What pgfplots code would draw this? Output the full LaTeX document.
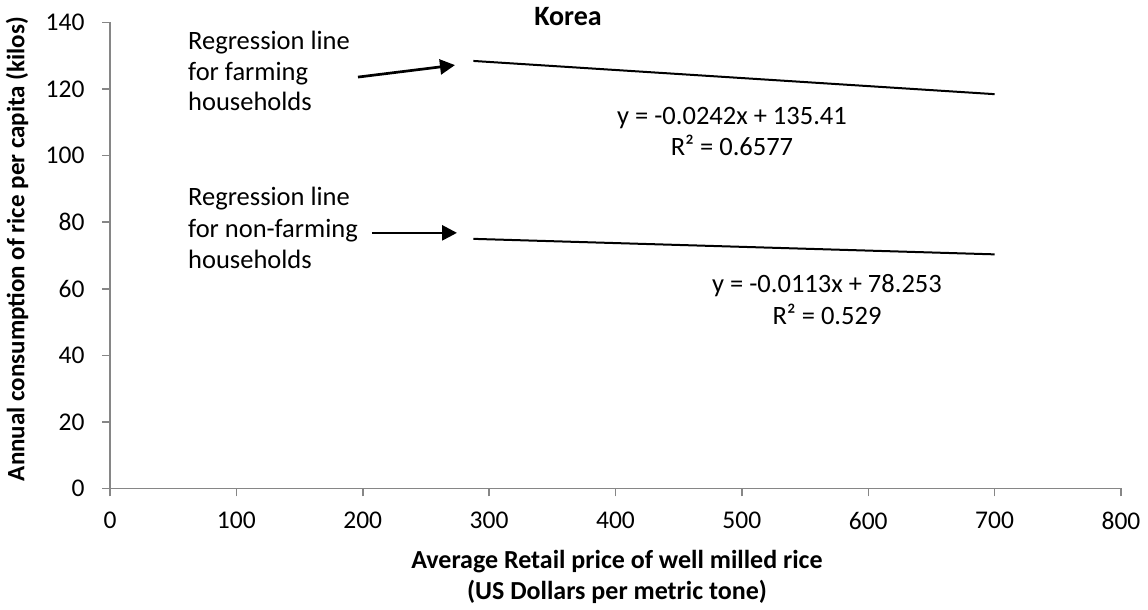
\documentclass[border=0pt]{standalone}
\usepackage{pgfplots}
\pgfplotsset{compat=1.18}
\usepackage{fontspec}
\setmainfont{Carlito}
\usetikzlibrary{arrows.meta}
\definecolor{axgray}{RGB}{134,134,134}
\begin{document}
\begin{tikzpicture}[x=1pt,y=1pt]
\useasboundingbox (0,0) rectangle (1148,610);
\begin{axis}[
  at={(110pt,121.5pt)}, anchor=south west,
  scale only axis, width=1011pt, height=466pt,
  xmin=0, xmax=800, ymin=0, ymax=140,
  xtick={0,100,...,800}, ytick={0,20,...,140},
  axis x line*=bottom, axis y line*=left,
  axis line style={axgray, line width=1.5pt},
  xtick align=outside, ytick align=outside,
  major tick length=8pt,
  every tick/.style={axgray, line width=1.5pt},
  tick label style={font=\fontsize{25.5}{30}\selectfont},
  xticklabel style={yshift=-12pt},
  yticklabel style={xshift=-14pt},
  /pgf/number format/assume math mode=true,
  clip=false,
]
\addplot[black, line width=2pt] coordinates {(287.5,128.45) (700,118.47)};
\addplot[black, line width=2pt] coordinates {(287.5,75.00) (700,70.34)};
\draw[-{Triangle[length=15pt,width=15pt]}, line width=2.7pt] (axis cs:196.2,123.6) -- (axis cs:273,127.2);
\draw[-{Triangle[length=15pt,width=15pt]}, line width=2.7pt] (axis cs:207.3,76.8) -- (axis cs:274.6,76.8);
\end{axis}
\begin{scope}[every node/.style={font=\fontsize{26.5}{31}\selectfont, inner sep=0pt}]
\node[anchor=base west] at (188,560) {Regression line};
\node[anchor=base west] at (188,529) {for farming};
\node[anchor=base west] at (188,499) {households};
\node[anchor=base west] at (188,404) {Regression line};
\node[anchor=base west] at (188,372) {for non-farming};
\node[anchor=base west] at (188,341) {households};
\node[anchor=base] at (732,485) {y = -0.0242x + 135.41};
\node[anchor=base] at (732,454) {R² = 0.6577};
\node[anchor=base] at (827,317) {y = -0.0113x + 78.253};
\node[anchor=base] at (827,285) {R² = 0.529};
\end{scope}
\node[font=\bfseries\fontsize{28}{33}\selectfont] at (568,593) {Korea};
\node[rotate=90, font=\bfseries\fontsize{25}{30}\selectfont] at (17,361) {Annual consumption of rice per capita (kilos)};
\node[font=\bfseries\fontsize{26}{31}\selectfont] at (617,48) {Average Retail price of well milled rice};
\node[font=\bfseries\fontsize{26}{31}\selectfont] at (617,18) {(US Dollars per metric tone)};
\end{tikzpicture}
\end{document}
